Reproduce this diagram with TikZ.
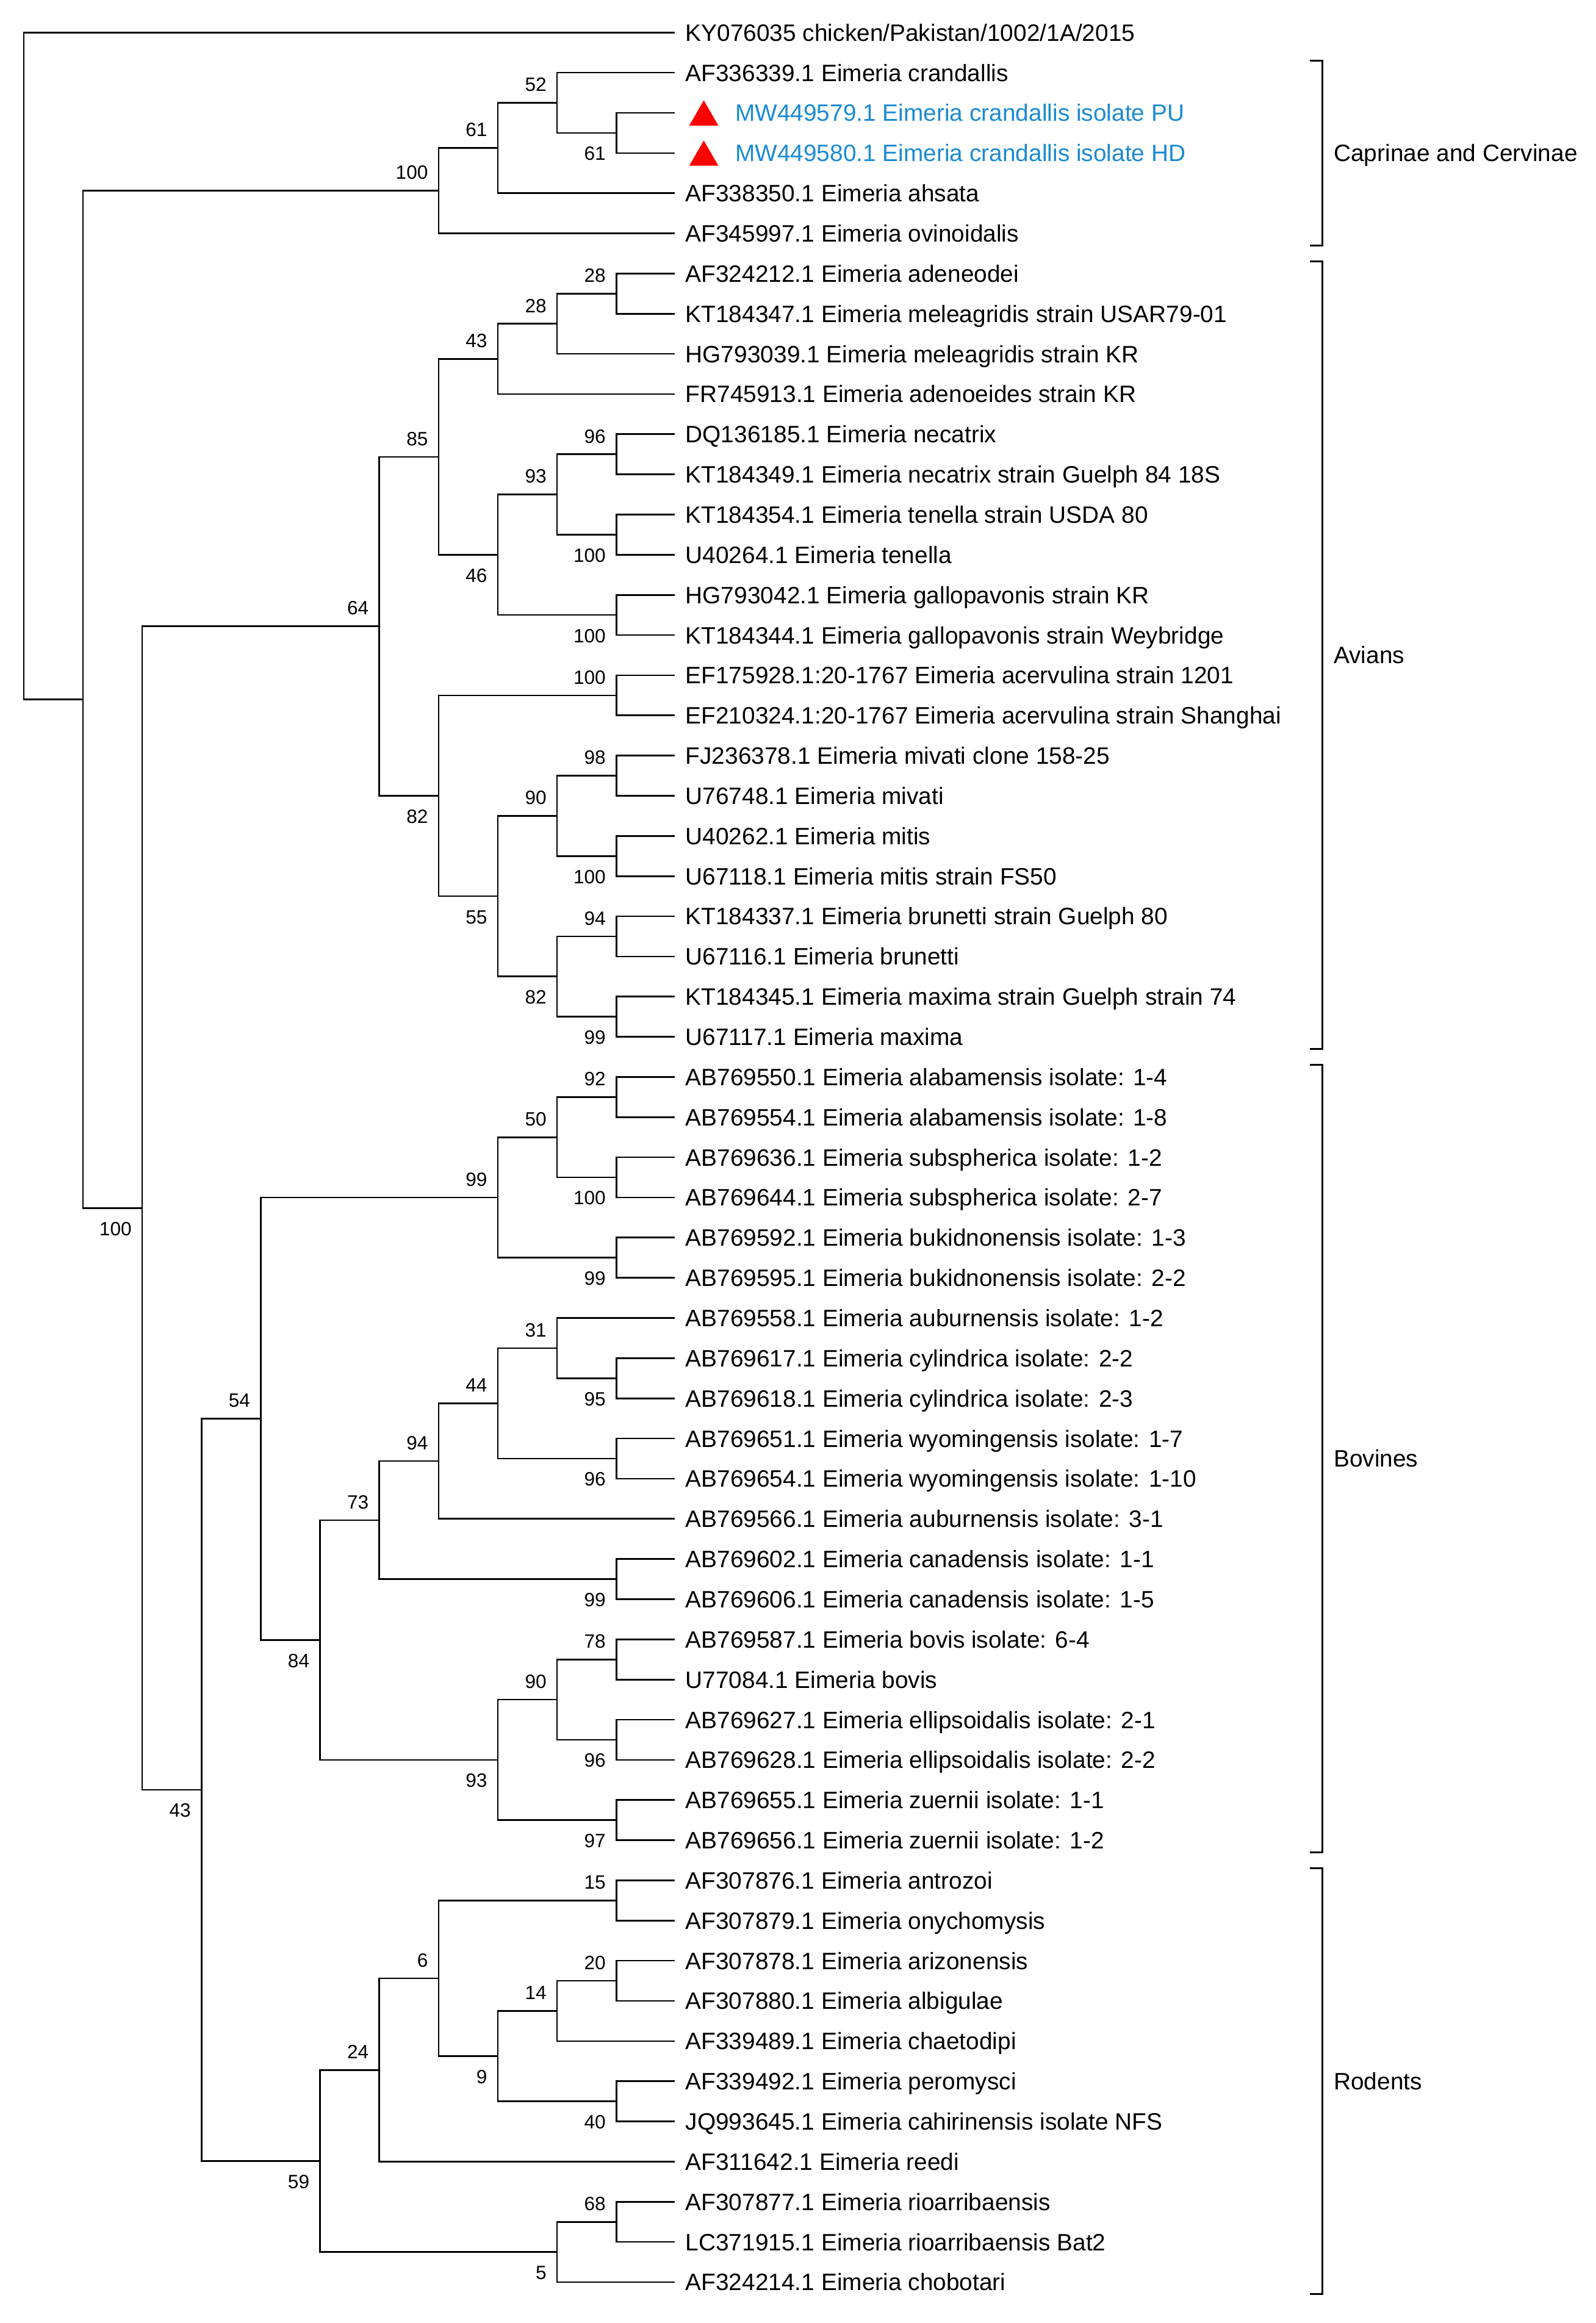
\documentclass[tikz,border=0pt]{standalone}
\usepackage{fontspec}
\setmainfont{Liberation Sans}
\usetikzlibrary{positioning, shapes.geometric}
\definecolor{isoBlue}{HTML}{1A8AD4}
\definecolor{isoRed}{HTML}{FF0000}

\begin{document}
\begin{tikzpicture}[
    x=1pt, y=-27.115pt,
    every node/.style={font=\fontsize{16}{19.2}\selectfont},
    % --- node styles ---
    leaf/.style={anchor=west, inner xsep=6.9pt, inner ysep=0pt,
                 text height=11.5pt, text depth=0pt},
    hilite/.style={leaf, inner xsep=40.4pt, text=isoBlue},
    tri/.style={regular polygon, regular polygon sides=3, fill=isoRed,
                inner sep=0pt, minimum size=22.7pt, yshift=-2.9pt},
    boot/.style={inner sep=0pt, text height=9.3pt, text depth=0pt,
                 font=\fontsize{13}{15.6}\selectfont},
    grp/.style={anchor=west, inner sep=0pt, text height=11.5pt, text depth=0pt},
    % --- line styles ---
    br/.style={line width=1.1pt},
    brk/.style={line width=1.1pt},
]
\useasboundingbox (0,0.1905) rectangle (1077,58.019);

% ===== LEAVES ===============================================================

\node[leaf] (l1) at (455.6,1) {KY076035 chicken/Pakistan/1002/1A/2015};

% -- Caprinae and Cervinae --
\node[leaf]   (l2) at (455.6,2) {AF336339.1 Eimeria crandallis};
\node[hilite] (l3) at (455.6,3) {MW449579.1 Eimeria crandallis isolate PU};
\node[hilite] (l4) at (455.6,4) {MW449580.1 Eimeria crandallis isolate HD};
\node[leaf]   (l5) at (455.6,5) {AF338350.1 Eimeria ahsata};
\node[leaf]   (l6) at (455.6,6) {AF345997.1 Eimeria ovinoidalis};
\node[tri] (tri3) at (475,3) {};
\node[tri] (tri4) at (475,4) {};

% -- Avians --
\node[leaf] (l7)  at (455.6,7)  {AF324212.1 Eimeria adeneodei};
\node[leaf] (l8)  at (455.6,8)  {KT184347.1 Eimeria meleagridis strain USAR79-01};
\node[leaf] (l9)  at (455.6,9)  {HG793039.1 Eimeria meleagridis strain KR};
\node[leaf] (l10) at (455.6,10) {FR745913.1 Eimeria adenoeides strain KR};
\node[leaf] (l11) at (455.6,11) {DQ136185.1 Eimeria necatrix};
\node[leaf] (l12) at (455.6,12) {KT184349.1 Eimeria necatrix strain Guelph 84 18S};
\node[leaf] (l13) at (455.6,13) {KT184354.1 Eimeria tenella strain USDA 80};
\node[leaf] (l14) at (455.6,14) {U40264.1 Eimeria tenella};
\node[leaf] (l15) at (455.6,15) {HG793042.1 Eimeria gallopavonis strain KR};
\node[leaf] (l16) at (455.6,16) {KT184344.1 Eimeria gallopavonis strain Weybridge};
\node[leaf] (l17) at (455.6,17) {EF175928.1:20-1767 Eimeria acervulina strain 1201};
\node[leaf] (l18) at (455.6,18) {EF210324.1:20-1767 Eimeria acervulina strain Shanghai};
\node[leaf] (l19) at (455.6,19) {FJ236378.1 Eimeria mivati clone 158-25};
\node[leaf] (l20) at (455.6,20) {U76748.1 Eimeria mivati};
\node[leaf] (l21) at (455.6,21) {U40262.1 Eimeria mitis};
\node[leaf] (l22) at (455.6,22) {U67118.1 Eimeria mitis strain FS50};
\node[leaf] (l23) at (455.6,23) {KT184337.1 Eimeria brunetti strain Guelph 80};
\node[leaf] (l24) at (455.6,24) {U67116.1 Eimeria brunetti};
\node[leaf] (l25) at (455.6,25) {KT184345.1 Eimeria maxima strain Guelph strain 74};
\node[leaf] (l26) at (455.6,26) {U67117.1 Eimeria maxima};

% -- Bovines --
\node[leaf] (l27) at (455.6,27) {AB769550.1 Eimeria alabamensis isolate: 1-4};
\node[leaf] (l28) at (455.6,28) {AB769554.1 Eimeria alabamensis isolate: 1-8};
\node[leaf] (l29) at (455.6,29) {AB769636.1 Eimeria subspherica isolate: 1-2};
\node[leaf] (l30) at (455.6,30) {AB769644.1 Eimeria subspherica isolate: 2-7};
\node[leaf] (l31) at (455.6,31) {AB769592.1 Eimeria bukidnonensis isolate: 1-3};
\node[leaf] (l32) at (455.6,32) {AB769595.1 Eimeria bukidnonensis isolate: 2-2};
\node[leaf] (l33) at (455.6,33) {AB769558.1 Eimeria auburnensis isolate: 1-2};
\node[leaf] (l34) at (455.6,34) {AB769617.1 Eimeria cylindrica isolate: 2-2};
\node[leaf] (l35) at (455.6,35) {AB769618.1 Eimeria cylindrica isolate: 2-3};
\node[leaf] (l36) at (455.6,36) {AB769651.1 Eimeria wyomingensis isolate: 1-7};
\node[leaf] (l37) at (455.6,37) {AB769654.1 Eimeria wyomingensis isolate: 1-10};
\node[leaf] (l38) at (455.6,38) {AB769566.1 Eimeria auburnensis isolate: 3-1};
\node[leaf] (l39) at (455.6,39) {AB769602.1 Eimeria canadensis isolate: 1-1};
\node[leaf] (l40) at (455.6,40) {AB769606.1 Eimeria canadensis isolate: 1-5};
\node[leaf] (l41) at (455.6,41) {AB769587.1 Eimeria bovis isolate: 6-4};
\node[leaf] (l42) at (455.6,42) {U77084.1 Eimeria bovis};
\node[leaf] (l43) at (455.6,43) {AB769627.1 Eimeria ellipsoidalis isolate: 2-1};
\node[leaf] (l44) at (455.6,44) {AB769628.1 Eimeria ellipsoidalis isolate: 2-2};
\node[leaf] (l45) at (455.6,45) {AB769655.1 Eimeria zuernii isolate: 1-1};
\node[leaf] (l46) at (455.6,46) {AB769656.1 Eimeria zuernii isolate: 1-2};

% -- Rodents --
\node[leaf] (l47) at (455.6,47) {AF307876.1 Eimeria antrozoi};
\node[leaf] (l48) at (455.6,48) {AF307879.1 Eimeria onychomysis};
\node[leaf] (l49) at (455.6,49) {AF307878.1 Eimeria arizonensis};
\node[leaf] (l50) at (455.6,50) {AF307880.1 Eimeria albigulae};
\node[leaf] (l51) at (455.6,51) {AF339489.1 Eimeria chaetodipi};
\node[leaf] (l52) at (455.6,52) {AF339492.1 Eimeria peromysci};
\node[leaf] (l53) at (455.6,53) {JQ993645.1 Eimeria cahirinensis isolate NFS};
\node[leaf] (l54) at (455.6,54) {AF311642.1 Eimeria reedi};
\node[leaf] (l55) at (455.6,55) {AF307877.1 Eimeria rioarribaensis};
\node[leaf] (l56) at (455.6,56) {LC371915.1 Eimeria rioarribaensis Bat2};
\node[leaf] (l57) at (455.6,57) {AF324214.1 Eimeria chobotari};


% ===== INTERNAL NODES =======================================================

\coordinate (root) at (16,9.3003);
\coordinate (main) at (56,17.60059);
\coordinate (n100) at (96,30.26367);
\coordinate (n43)  at (136,44.74609);

% -- Caprinae and Cervinae --
\coordinate (c100) at (296,4.9375);
\coordinate (c61a) at (336,3.875);
\coordinate (c52)  at (376,2.75);
\coordinate (c61b) at (416,3.5);

% -- Avians --
\coordinate (a64)   at (256,15.78125);
\coordinate (a85)   at (296,11.5625);
\coordinate (a43)   at (336,9.125);
\coordinate (a28b)  at (376,8.25);
\coordinate (a28a)  at (416,7.5);
\coordinate (a46)   at (336,14);
\coordinate (a93)   at (376,12.5);
\coordinate (a96)   at (416,11.5);
\coordinate (a100t) at (416,13.5);
\coordinate (a100g) at (416,15.5);
\coordinate (a82)   at (296,20);
\coordinate (a100a) at (416,17.5);
\coordinate (a55)   at (336,22.5);
\coordinate (a90)   at (376,20.5);
\coordinate (a98)   at (416,19.5);
\coordinate (a100m) at (416,21.5);
\coordinate (a82b)  at (376,24.5);
\coordinate (a94)   at (416,23.5);
\coordinate (a99)   at (416,25.5);

% -- Bovines --
\coordinate (b54)  at (176,35.50781);
\coordinate (b99a) at (336,30);
\coordinate (b50)  at (376,28.5);
\coordinate (b92)  at (416,27.5);
\coordinate (b100) at (416,29.5);
\coordinate (b99b) at (416,31.5);
\coordinate (b84)  at (216,41.01563);
\coordinate (b73)  at (256,38.03125);
\coordinate (b94)  at (296,36.5625);
\coordinate (b44)  at (336,35.125);
\coordinate (b31)  at (376,33.75);
\coordinate (b95)  at (416,34.5);
\coordinate (b96a) at (416,36.5);
\coordinate (b99c) at (416,39.5);
\coordinate (b93)  at (336,44);
\coordinate (b90)  at (376,42.5);
\coordinate (b78)  at (416,41.5);
\coordinate (b96b) at (416,43.5);
\coordinate (b97)  at (416,45.5);

% -- Rodents --
\coordinate (r59) at (216,53.98438);
\coordinate (r24) at (256,51.71875);
\coordinate (r6)  at (296,49.4375);
\coordinate (r15) at (416,47.5);
\coordinate (r9)  at (336,51.375);
\coordinate (r14) at (376,50.25);
\coordinate (r20) at (416,49.5);
\coordinate (r40) at (416,52.5);
\coordinate (r5)  at (376,56.25);
\coordinate (r68) at (416,55.5);


% ===== BRANCHES =============================================================

\draw[br] (root) |- (l1.west)  (root) |- (main);
\draw[br] (main) |- (c100)     (main) |- (n100);
\draw[br] (n100) |- (a64)      (n100) |- (n43);
\draw[br] (n43)  |- (b54)      (n43)  |- (r59);

% -- Caprinae and Cervinae --
\draw[br] (c100) |- (c61a)     (c100) |- (l6.west);
\draw[br] (c61a) |- (c52)      (c61a) |- (l5.west);
\draw[br] (c52)  |- (l2.west)  (c52)  |- (c61b);
\draw[br] (c61b) |- (l3.west)  (c61b) |- (l4.west);

% -- Avians --
\draw[br] (a64)   |- (a85)      (a64)   |- (a82);
\draw[br] (a85)   |- (a43)      (a85)   |- (a46);
\draw[br] (a43)   |- (a28b)     (a43)   |- (l10.west);
\draw[br] (a28b)  |- (a28a)     (a28b)  |- (l9.west);
\draw[br] (a28a)  |- (l7.west)  (a28a)  |- (l8.west);
\draw[br] (a46)   |- (a93)      (a46)   |- (a100g);
\draw[br] (a93)   |- (a96)      (a93)   |- (a100t);
\draw[br] (a96)   |- (l11.west) (a96)   |- (l12.west);
\draw[br] (a100t) |- (l13.west) (a100t) |- (l14.west);
\draw[br] (a100g) |- (l15.west) (a100g) |- (l16.west);
\draw[br] (a82)   |- (a100a)    (a82)   |- (a55);
\draw[br] (a100a) |- (l17.west) (a100a) |- (l18.west);
\draw[br] (a55)   |- (a90)      (a55)   |- (a82b);
\draw[br] (a90)   |- (a98)      (a90)   |- (a100m);
\draw[br] (a98)   |- (l19.west) (a98)   |- (l20.west);
\draw[br] (a100m) |- (l21.west) (a100m) |- (l22.west);
\draw[br] (a82b)  |- (a94)      (a82b)  |- (a99);
\draw[br] (a94)   |- (l23.west) (a94)   |- (l24.west);
\draw[br] (a99)   |- (l25.west) (a99)   |- (l26.west);

% -- Bovines --
\draw[br] (b54)  |- (b99a)      (b54)  |- (b84);
\draw[br] (b99a) |- (b50)       (b99a) |- (b99b);
\draw[br] (b50)  |- (b92)       (b50)  |- (b100);
\draw[br] (b92)  |- (l27.west)  (b92)  |- (l28.west);
\draw[br] (b100) |- (l29.west)  (b100) |- (l30.west);
\draw[br] (b99b) |- (l31.west)  (b99b) |- (l32.west);
\draw[br] (b84)  |- (b73)       (b84)  |- (b93);
\draw[br] (b73)  |- (b94)       (b73)  |- (b99c);
\draw[br] (b94)  |- (b44)       (b94)  |- (l38.west);
\draw[br] (b44)  |- (b31)       (b44)  |- (b96a);
\draw[br] (b31)  |- (l33.west)  (b31)  |- (b95);
\draw[br] (b95)  |- (l34.west)  (b95)  |- (l35.west);
\draw[br] (b96a) |- (l36.west)  (b96a) |- (l37.west);
\draw[br] (b99c) |- (l39.west)  (b99c) |- (l40.west);
\draw[br] (b93)  |- (b90)       (b93)  |- (b97);
\draw[br] (b90)  |- (b78)       (b90)  |- (b96b);
\draw[br] (b78)  |- (l41.west)  (b78)  |- (l42.west);
\draw[br] (b96b) |- (l43.west)  (b96b) |- (l44.west);
\draw[br] (b97)  |- (l45.west)  (b97)  |- (l46.west);

% -- Rodents --
\draw[br] (r59) |- (r24)       (r59) |- (r5);
\draw[br] (r24) |- (r6)        (r24) |- (l54.west);
\draw[br] (r6)  |- (r15)       (r6)  |- (r9);
\draw[br] (r15) |- (l47.west)  (r15) |- (l48.west);
\draw[br] (r9)  |- (r14)       (r9)  |- (r40);
\draw[br] (r14) |- (r20)       (r14) |- (l51.west);
\draw[br] (r20) |- (l49.west)  (r20) |- (l50.west);
\draw[br] (r40) |- (l52.west)  (r40) |- (l53.west);
\draw[br] (r5)  |- (r68)       (r5)  |- (l57.west);
\draw[br] (r68) |- (l55.west)  (r68) |- (l56.west);


% ===== BOOTSTRAP VALUES =====================================================

\node[boot, below left=9pt and 7pt of n100] (n100b) {100};
\node[boot, below left=9pt and 7pt of n43]  (n43b)  {43};

% -- Caprinae and Cervinae --
\node[boot, above left=7.5pt and 7pt of c100] (c100b) {100};
\node[boot, above left=7.5pt and 7pt of c61a] (c61ab) {61};
\node[boot, above left=7.5pt and 7pt of c52]  (c52b)  {52};
\node[boot, below left=9pt and 7pt of c61b]   (c61bb) {61};

% -- Avians --
\node[boot, above left=7.5pt and 7pt of a64]   (a64b)   {64};
\node[boot, above left=7.5pt and 7pt of a85]   (a85b)   {85};
\node[boot, above left=7.5pt and 7pt of a43]   (a43b)   {43};
\node[boot, above left=7.5pt and 7pt of a28b]  (a28bb)  {28};
\node[boot, above left=7.5pt and 7pt of a28a]  (a28ab)  {28};
\node[boot, below left=9pt and 7pt of a46]     (a46b)   {46};
\node[boot, above left=7.5pt and 7pt of a93]   (a93b)   {93};
\node[boot, above left=7.5pt and 7pt of a96]   (a96b)   {96};
\node[boot, below left=9pt and 7pt of a100t]   (a100tb) {100};
\node[boot, below left=9pt and 7pt of a100g]   (a100gb) {100};
\node[boot, below left=9pt and 7pt of a82]     (a82b0)  {82};
\node[boot, above left=7.5pt and 7pt of a100a] (a100ab) {100};
\node[boot, below left=9pt and 7pt of a55]     (a55b)   {55};
\node[boot, above left=7.5pt and 7pt of a90]   (a90b)   {90};
\node[boot, above left=7.5pt and 7pt of a98]   (a98b)   {98};
\node[boot, below left=9pt and 7pt of a100m]   (a100mb) {100};
\node[boot, below left=9pt and 7pt of a82b]    (a82bb)  {82};
\node[boot, above left=7.5pt and 7pt of a94]   (a94b)   {94};
\node[boot, below left=9pt and 7pt of a99]     (a99b)   {99};

% -- Bovines --
\node[boot, above left=7.5pt and 7pt of b54]  (b54b)  {54};
\node[boot, above left=7.5pt and 7pt of b99a] (b99ab) {99};
\node[boot, above left=7.5pt and 7pt of b50]  (b50b)  {50};
\node[boot, above left=7.5pt and 7pt of b92]  (b92b)  {92};
\node[boot, below left=9pt and 7pt of b100]   (b100b) {100};
\node[boot, below left=9pt and 7pt of b99b]   (b99bb) {99};
\node[boot, below left=9pt and 7pt of b84]    (b84b)  {84};
\node[boot, above left=7.5pt and 7pt of b73]  (b73b)  {73};
\node[boot, above left=7.5pt and 7pt of b94]  (b94b)  {94};
\node[boot, above left=7.5pt and 7pt of b44]  (b44b)  {44};
\node[boot, above left=7.5pt and 7pt of b31]  (b31b)  {31};
\node[boot, below left=9pt and 7pt of b95]    (b95b)  {95};
\node[boot, below left=9pt and 7pt of b96a]   (b96ab) {96};
\node[boot, below left=9pt and 7pt of b99c]   (b99cb) {99};
\node[boot, below left=9pt and 7pt of b93]    (b93b)  {93};
\node[boot, above left=7.5pt and 7pt of b90]  (b90b)  {90};
\node[boot, above left=7.5pt and 7pt of b78]  (b78b)  {78};
\node[boot, below left=9pt and 7pt of b96b]   (b96bb) {96};
\node[boot, below left=9pt and 7pt of b97]    (b97b)  {97};

% -- Rodents --
\node[boot, below left=9pt and 7pt of r59]   (r59b) {59};
\node[boot, above left=7.5pt and 7pt of r24] (r24b) {24};
\node[boot, above left=7.5pt and 7pt of r6]  (r6b)  {6};
\node[boot, above left=7.5pt and 7pt of r15] (r15b) {15};
\node[boot, below left=9pt and 7pt of r9]    (r9b)  {9};
\node[boot, above left=7.5pt and 7pt of r14] (r14b) {14};
\node[boot, above left=7.5pt and 7pt of r20] (r20b) {20};
\node[boot, below left=9pt and 7pt of r40]   (r40b) {40};
\node[boot, below left=9pt and 7pt of r5]    (r5b)  {5};
\node[boot, above left=7.5pt and 7pt of r68] (r68b) {68};


% ===== GROUP BRACKETS =======================================================

\coordinate (capT) at (892.6,1.7);
\coordinate (capB) at (892.6,6.3);
\coordinate (aviT) at (892.6,6.7);
\coordinate (aviB) at (892.6,26.3);
\coordinate (bovT) at (892.6,26.7);
\coordinate (bovB) at (892.6,46.3);
\coordinate (rodT) at (892.6,46.7);
\coordinate (rodB) at (892.6,57.3);

\draw[brk] ([xshift=-8.6pt]capT) -- (capT) -- (capB) -- ([xshift=-8.6pt]capB);
\draw[brk] ([xshift=-8.6pt]aviT) -- (aviT) -- (aviB) -- ([xshift=-8.6pt]aviB);
\draw[brk] ([xshift=-8.6pt]bovT) -- (bovT) -- (bovB) -- ([xshift=-8.6pt]bovB);
\draw[brk] ([xshift=-8.6pt]rodT) -- (rodT) -- (rodB) -- ([xshift=-8.6pt]rodB);

\node[grp] (gCap) at (900,4)    {Caprinae and Cervinae};
\node[grp] (gAvi) at (900,16.5) {Avians};
\node[grp] (gBov) at (900,36.5) {Bovines};
\node[grp] (gRod) at (900,52)   {Rodents};

\end{tikzpicture}
\end{document}
